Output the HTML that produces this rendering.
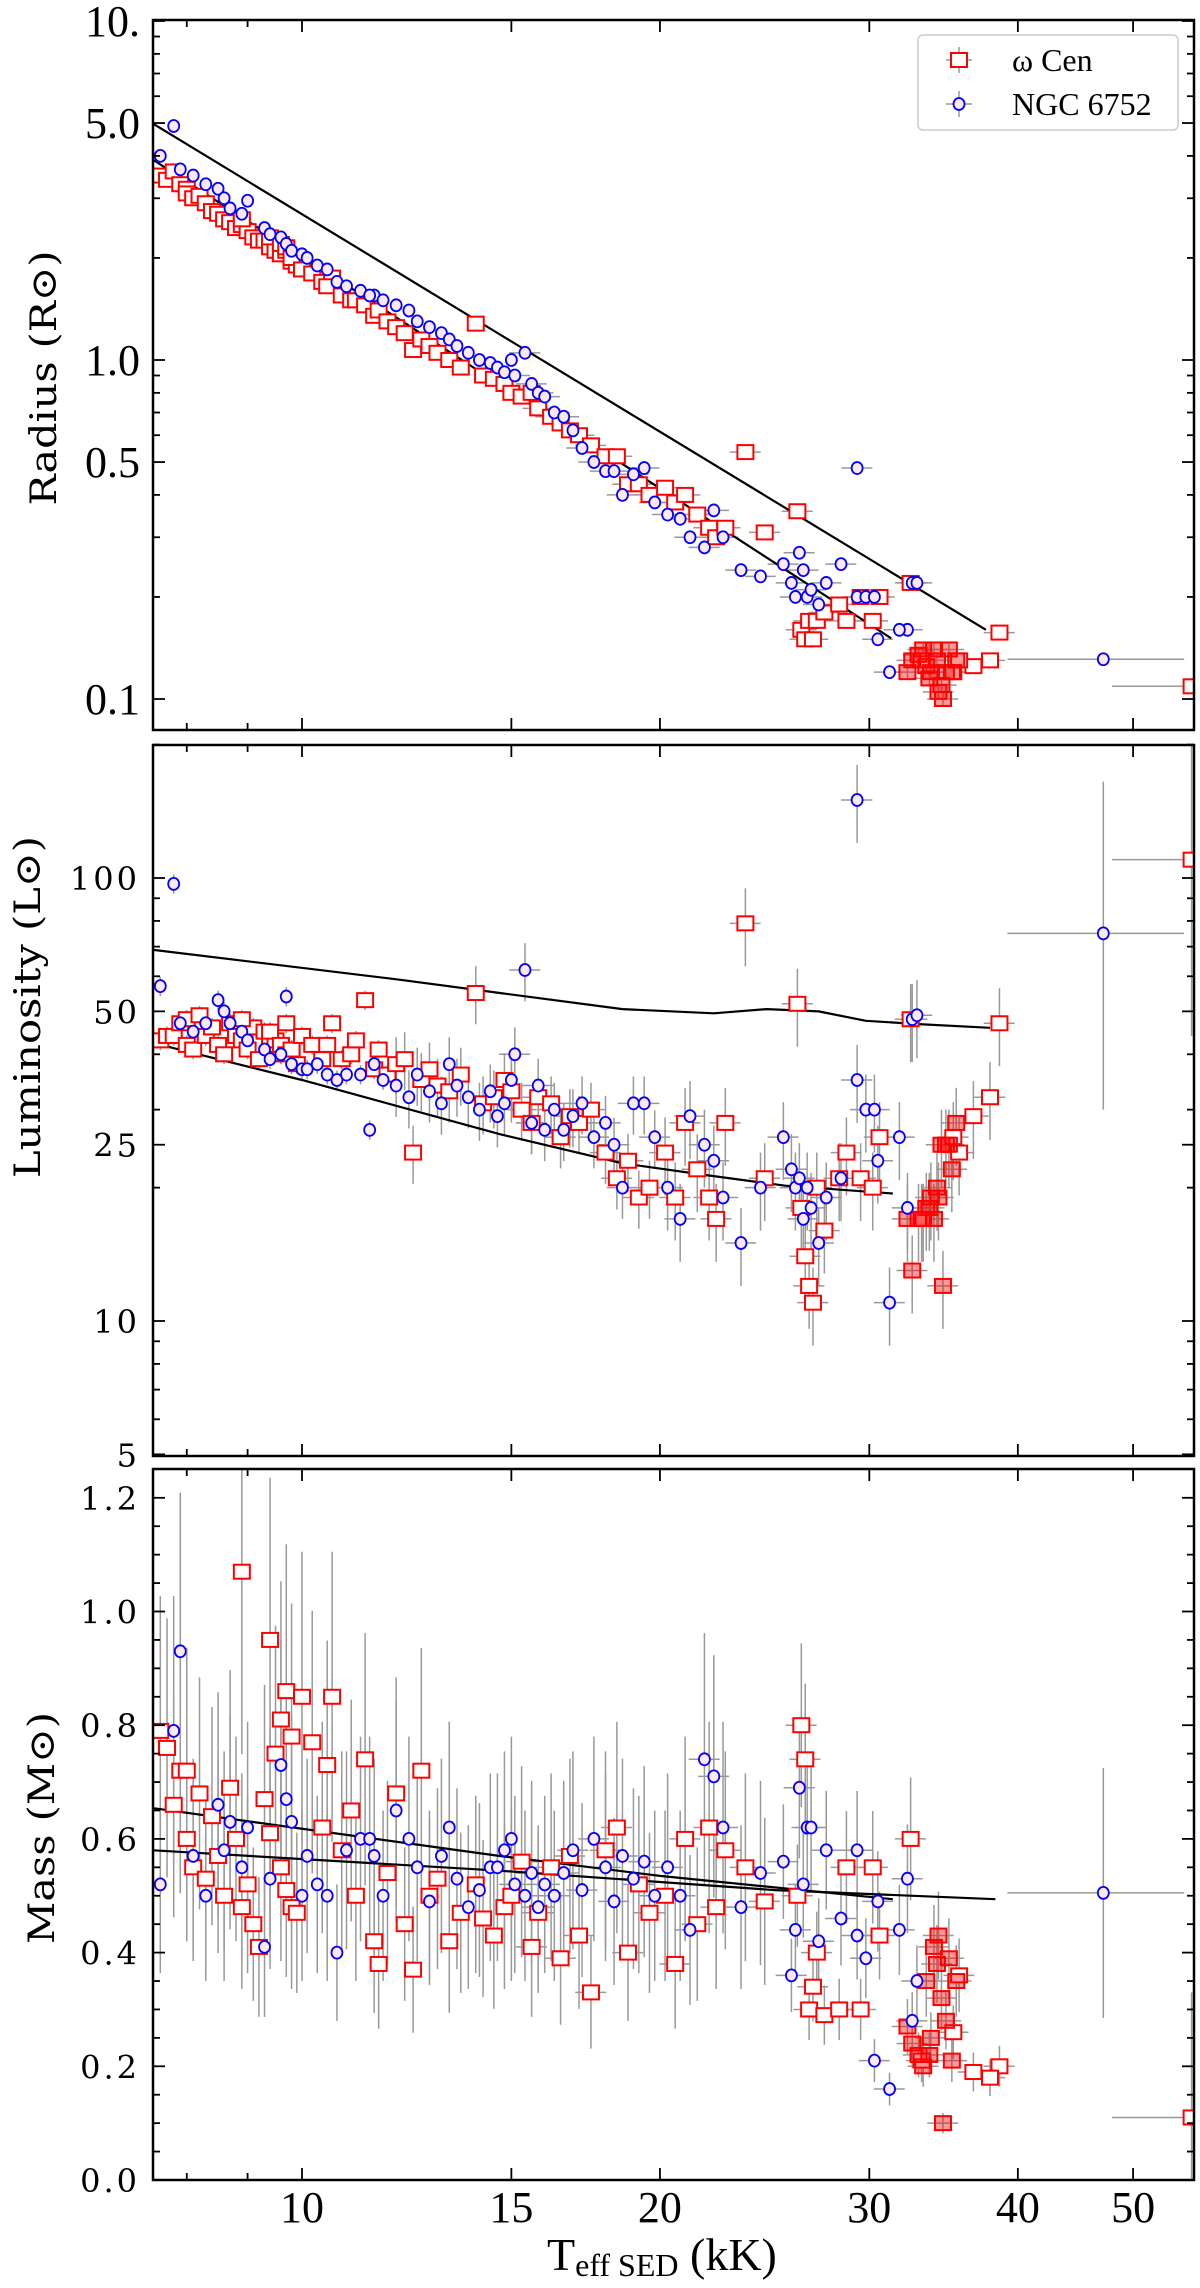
<!DOCTYPE html>
<html><head><meta charset="utf-8"><style>
html,body{margin:0;padding:0;background:#fff;}
svg{display:block;}
</style></head><body>
<svg id="fig" width="1200" height="2288" viewBox="0 0 1200 2288" xmlns="http://www.w3.org/2000/svg">
<g id="layer-err"></g>
<g id="layer-lines"></g>
<g id="layer-marks"></g>
<g id="layer-axes"></g>
<g id="legend">
  <rect x="918" y="35" width="260" height="95" rx="5" fill="#fff" stroke="#ccc" stroke-width="1.5"/>
  <g>
    <line x1="959" y1="47" x2="959" y2="73" stroke="#999" stroke-width="1.5"/>
    <line x1="946" y1="60" x2="972" y2="60" stroke="#999" stroke-width="1.5"/>
    <rect x="951" y="53" width="16" height="14" fill="#fff" stroke="#f00" stroke-width="2"/>
    <text x="1012" y="71" font-family="Liberation Serif, DejaVu Serif, serif" font-size="32">ω Cen</text>
  </g>
  <g>
    <line x1="959" y1="91" x2="959" y2="117" stroke="#999" stroke-width="1.5"/>
    <line x1="946" y1="104" x2="972" y2="104" stroke="#999" stroke-width="1.5"/>
    <ellipse cx="959" cy="104" rx="5.5" ry="6" fill="#fde8ee" stroke="#00f" stroke-width="1.8"/>
    <text x="1012" y="115" font-family="Liberation Serif, DejaVu Serif, serif" font-size="32">NGC 6752</text>
  </g>
</g>
</svg>
<script>
// ---- data: [Teff (kK), Radius, Luminosity, Mass, filled(1/0)] ----
const omegaCen = [
[7.6,3.5,43,0.79,0],[7.7,3.4,44,0.76,0],[7.8,3.6,44,0.66,0],[7.9,3.3,47,0.72,0],[8.0,3.2,48,0.72,0],[8.0,3.1,42,0.6,0],
[8.1,3.0,41,0.55,0],[8.2,3.05,49,0.68,0],[8.3,2.9,44,0.53,0],[8.4,2.75,46,0.64,0],[8.5,2.7,42,0.57,0],[8.6,2.6,40,0.5,0],
[8.7,2.55,47,0.69,0],[8.8,2.45,44,0.6,0],[8.9,2.5,43,0.48,0],[9.0,2.4,41,0.52,0],[9.1,2.3,46,0.45,0],[9.2,2.25,39,0.41,0],
[9.3,2.25,45,0.67,0],[9.4,2.15,42,0.61,0],[9.5,2.1,43,0.75,0],[9.6,2.05,40,0.55,0],[9.7,2.1,47,0.51,0],[9.8,1.95,41,0.48,0],
[9.9,1.9,38,0.47,0],[8.9,2.6,48,1.07,0],[9.4,2.3,45,0.95,0],[9.6,2.2,42,0.81,0],[9.7,2.15,40,0.86,0],[9.8,2.0,41,0.78,0],
[10.0,1.85,44,0.85,0],[10.2,1.8,42,0.77,0],[10.4,1.7,39,0.62,0],[10.6,1.75,47,0.85,0],[10.5,1.65,42,0.73,0],[10.8,1.55,39,0.58,0],
[11.0,1.5,40,0.65,0],[11.1,1.5,43,0.5,0],[11.3,1.45,53,0.74,0],[11.5,1.35,37,0.42,0],[11.6,1.4,41,0.38,0],[11.8,1.3,36,0.54,0],
[12.0,1.25,38,0.68,0],[12.2,1.2,39,0.45,0],[12.4,1.07,24,0.37,0],[12.6,1.15,35,0.72,0],[12.8,1.1,37,0.5,0],[13.0,1.05,34,0.53,0],
[13.3,1.0,33,0.42,0],[13.6,0.95,36,0.47,0],[14.0,1.28,55,0.52,0],[14.2,0.9,31,0.46,0],[14.5,0.88,32,0.43,0],[14.8,0.85,35,0.48,0],
[15.0,0.8,33,0.5,0],[15.3,0.78,30,0.56,0],[15.6,0.8,28,0.41,0],[15.8,0.72,32,0.47,0],[16.2,0.68,31,0.55,0],[16.5,0.65,26,0.39,0],
[16.8,0.62,29,0.57,0],[17.1,0.6,28,0.43,0],[17.5,0.56,30,0.33,0],[18.0,0.52,24,0.58,0],[18.4,0.52,21,0.62,0],[18.8,0.43,23,0.4,0],
[19.2,0.43,19,0.52,0],[19.6,0.4,20,0.47,0],[20.2,0.42,24,0.5,0],[20.6,0.38,19,0.38,0],[21.0,0.4,28,0.6,0],[21.5,0.35,22,0.45,0],
[22.0,0.32,19,0.62,0],[22.3,0.3,17,0.48,0],[22.7,0.32,28,0.58,0],[23.6,0.535,79,0.55,0],[24.5,0.31,21,0.49,0],[26.1,0.358,52,0.5,0],
[26.3,0.16,18,0.8,0],[26.5,0.15,14,0.74,0],[26.7,0.17,12,0.3,0],[26.9,0.15,11,0.34,0],[27.1,0.17,20,0.4,0],[27.5,0.18,16,0.29,0],
[28.3,0.19,21,0.3,0],[28.7,0.17,24,0.55,0],[29.5,0.2,21,0.3,0],[30.2,0.17,20,0.55,0],[30.6,0.2,26,0.43,0],[32.5,0.22,48,0.6,0],
[36.7,0.125,29,0.19,0],[38.6,0.157,47,0.2,0],[37.9,0.13,32,0.18,0],[56,0.109,110,0.11,0],
[33.2,0.13,17,0.21,0],[35.7,0.13,24,0.36,0],[35.3,0.12,26,0.26,0],
[32.3,0.12,17,0.27,1],[32.6,0.13,13,0.24,1],[33.0,0.135,17,0.22,1],[33.3,0.14,17,0.2,1],[33.5,0.125,18,0.35,1],[33.8,0.12,19,0.25,1],
[34.0,0.14,17,0.41,1],[34.2,0.13,20,0.38,1],[34.5,0.11,25,0.32,1],[34.6,0.1,12,0.1,1],[34.8,0.12,25,0.28,1],[35.0,0.14,25,0.39,1],
[35.2,0.12,22,0.21,1],[35.5,0.13,28,0.35,1],[33.7,0.115,18,0.22,1],[34.3,0.105,19,0.43,1]
];
const ngc6752 = [
[7.6,4.0,57,0.52],[7.8,4.9,97,0.79],[7.9,3.65,47,0.93],[8.1,3.5,45,0.57],[8.3,3.3,47,0.5],[8.5,3.2,53,0.66],
[8.6,3.0,50,0.58],[8.7,2.8,47,0.63],[8.9,2.7,45,0.55],[9.0,2.95,43,0.62],[9.3,2.45,41,0.41],[9.4,2.35,39,0.53],
[9.6,2.3,40,0.73],[9.7,2.2,54,0.67],[9.8,2.1,38,0.63],[10.0,2.05,37,0.5],[10.1,2.0,37,0.57],[10.3,1.9,38,0.52],
[10.5,1.85,36,0.5],[10.7,1.7,35,0.4],[10.9,1.65,36,0.58],[11.2,1.6,36,0.6],[11.5,1.55,38,0.57],[11.7,1.5,35,0.5],
[12.0,1.45,34,0.65],[11.4,1.55,27,0.6],[12.3,1.4,32,0.6],[12.5,1.3,36,0.55],[12.8,1.25,33,0.49],[13.1,1.2,31,0.57],
[13.3,1.15,38,0.62],[13.5,1.1,34,0.53],[13.8,1.05,32,0.48],[14.1,1.0,30,0.51],[14.4,0.98,33,0.55],[14.6,0.95,29,0.55],
[14.8,0.92,31,0.58],[15.0,1.0,35,0.6],[15.1,0.9,40,0.52],[15.4,1.05,62,0.5],[15.6,0.85,28,0.54],[15.8,0.8,34,0.48],
[16.0,0.78,27,0.52],[16.3,0.7,30,0.5],[16.6,0.68,27,0.54],[16.9,0.62,29,0.58],[17.2,0.55,31,0.51],[17.6,0.5,26,0.6],
[18.0,0.47,28,0.55],[18.3,0.47,25,0.49],[18.6,0.4,20,0.57],[19.0,0.46,31,0.53],[19.4,0.48,31,0.56],[19.8,0.38,26,0.5],
[20.3,0.35,20,0.55],[20.8,0.34,17,0.5],[21.2,0.3,29,0.44],[21.8,0.28,25,0.74],[22.2,0.36,23,0.71],[22.6,0.3,19,0.62],
[23.4,0.24,15,0.48],[24.3,0.23,20,0.54],[25.4,0.25,26,0.56],[25.8,0.22,22,0.36],[26.0,0.2,20,0.44],[26.2,0.27,21,0.69],
[26.4,0.24,17,0.52],[26.6,0.2,20,0.62],[26.8,0.21,18,0.62],[27.2,0.19,15,0.42],[27.6,0.22,19,0.58],[28.4,0.25,21,0.46],
[29.3,0.2,35,0.43],[29.3,0.48,150,0.58],[29.8,0.2,30,0.39],[30.3,0.2,30,0.21],[31.2,0.12,11,0.16],[32.3,0.16,18,0.53],
[32.6,0.22,48,0.28],[32.9,0.22,49,0.35],[47.2,0.131,75,0.505],[31.8,0.16,26,0.44],[30.5,0.15,23,0.49]
];
// model tracks
const radLineUpT = [7.5, 37.6], radLineUpR = [4.97, 0.16];
const radLineLoT = [7.5, 31.3], radLineLoR = [3.89, 0.151];
const lumLineUpT = [7.5,12.1,14.67,18.6,22.2,24.6,27.2,29.8,33,37.9];
const lumLineUpL = [68.8,58.9,55,50.6,49.5,50.6,50,47.6,46.8,45.9];
const lumLineLoT = [7.5,10,14.67,18.6,22,25.5,31.4];
const lumLineLoL = [42.4,35,26.4,22.7,21.3,20.2,19.4];
const massLineAT = [7.5,14.67,20,31.4];
const massLineAM = [0.654,0.57,0.535,0.494];
const massLineBT = [7.5,14.67,25,38.3];
const massLineBM = [0.58,0.544,0.51,0.494];
// ticks
const xMajor = [10,15,20,30,40,50];
const xMinor = [8,9];
const radTicks = [0.1,0.5,1.0,5.0,10];
const radTickLabels = ["0.1","0.5","1.0","5.0","10."];
const lumTicks = [5,10,25,50,100];
const lumTickLabels = ["5","10","25","50","100"];
const massTicks = [0,0.2,0.4,0.6,0.8,1.0,1.2];
const massTickLabels = ["0.0","0.2","0.4","0.6","0.8","1.0","1.2"];

// ---- geometry ----
const X0=153, X1=1194;
const P = {
  rad:{top:20,bot:730},
  lum:{top:745,bot:1456},
  mass:{top:1469,bot:2180}
};
const L10=Math.log10;
const xs = T => 302 + (L10(T)-1)*1189;
const yR = R => 360 - L10(R)*339;
const yL = L => 1321 - (L10(L)-1)*443;
const yM = M => 2180 - M*568.5;
const NS="http://www.w3.org/2000/svg";
function mk(tag, attrs, parent){const e=document.createElementNS(NS,tag);for(const k in attrs)e.setAttribute(k,attrs[k]);parent.appendChild(e);return e;}
const gErr=document.getElementById('layer-err'), gLines=document.getElementById('layer-lines'), gMarks=document.getElementById('layer-marks'), gAx=document.getElementById('layer-axes');

const defs=mk('defs',{},document.getElementById('fig'));
for(const k in P){const c=mk('clipPath',{id:'clip-'+k},defs);mk('rect',{x:X0,y:P[k].top,width:X1-X0,height:P[k].bot-P[k].top},c);}
const panelErr={},panelLines={},panelMarks={};
for(const k in P){
  panelErr[k]=mk('g',{'clip-path':'url(#clip-'+k+')'},gErr);
  panelLines[k]=mk('g',{'clip-path':'url(#clip-'+k+')'},gLines);
  panelMarks[k]=mk('g',{'clip-path':'url(#clip-'+k+')'},gMarks);
}
function xerrOf(T){return T>40?8:(T>15?0.03*T:0.01*T);}
function errbar(g,x1,y1,x2,y2){const l=mk('line',{x1:x1,y1:y1,x2:x2,y2:y2,stroke:'#999','stroke-width':1.5},g);
  
  }
function drawPoint(panel, T, v, yf, relLo, relHi, kind, filled){
  const x=xs(T), y=yf(v), dx=xerrOf(T);
  errbar(panelErr[panel], xs(T-dx), y, xs(T+dx), y);
  errbar(panelErr[panel], x, yf(relLo), x, yf(relHi));
  let m;
  if(kind==='sq'){
    m=mk('rect',{x:x-8,y:y-7,width:16,height:14,fill:filled?'rgba(255,0,0,0.4)':'#fff',stroke:'#f00','stroke-width':2},panelMarks[panel]);
    
  } else {
    m=mk('ellipse',{cx:x,cy:y,rx:5.5,ry:6,fill:'#fde8ee',stroke:'#00f','stroke-width':1.8},panelMarks[panel]);
    
  }
  
}
function lumErr(T){return T>40?0.6:(T<12?0.05:(T<20?0.15:0.2));}
function massErr(T,M){return T>40?0.22:(T<25?0.3*M:0.18*M);}
function series(arr, kind){
  arr.forEach(s=>{
    const [T,R,Lu,M,f]=s;
    drawPoint('rad',T,R,yR,R*0.96,R*1.04,kind,f);
    const le=lumErr(T);
    drawPoint('lum',T,Lu,yL,Lu*(1-le),Lu*(1+le*(T>40?2:1)),kind,f);
    const me=massErr(T,M);
    drawPoint('mass',T,M,yM,M-me,M+me,kind,f);
  });
}
series(omegaCen,'sq');
series(ngc6752,'ci');

function poly(panel, Ts, Vs, yf, name){
  const pts=Ts.map((t,i)=>xs(t).toFixed(1)+','+yf(Vs[i]).toFixed(1)).join(' ');
  const p=mk('polyline',{points:pts,fill:'none',stroke:'#000','stroke-width':2.2},panelLines[panel]);
  
  
}
poly('rad',radLineUpT,radLineUpR,yR,'radius-model-upper');
poly('rad',radLineLoT,radLineLoR,yR,'radius-model-lower');
poly('lum',lumLineUpT,lumLineUpL,yL,'luminosity-model-upper');
poly('lum',lumLineLoT,lumLineLoL,yL,'luminosity-model-lower');
poly('mass',massLineAT,massLineAM,yM,'mass-model-a');
poly('mass',massLineBT,massLineBM,yM,'mass-model-b');

function tick(x1,y1,x2,y2){mk('line',{x1:x1,y1:y1,x2:x2,y2:y2,stroke:'#000','stroke-width':1.8},gAx);}
function txt(s,x,y,attrs){const t=mk('text',Object.assign({x:x,y:y},attrs),gAx);t.textContent=s;return t;}
for(const k in P){
  const {top,bot}=P[k];
  const fr=mk('rect',{x:X0,y:top,width:X1-X0,height:bot-top,fill:'none',stroke:'#000','stroke-width':2.5},gAx);
  
  
  xMajor.forEach(T=>{tick(xs(T),bot,xs(T),bot-12);tick(xs(T),top,xs(T),top+12);});
  xMinor.forEach(T=>{tick(xs(T),bot,xs(T),bot-7);tick(xs(T),top,xs(T),top+7);});
}
function yTicks(vals, yf, len){vals.forEach(v=>{const y=yf(v);tick(X0,y,X0+len,y);tick(X1,y,X1-len,y);});}
yTicks(radTicks,yR,12);
yTicks([0.2,0.3,0.4,0.6,0.7,0.8,0.9,2,3,4,6,7,8,9],yR,7);
radTicks.forEach((v,i)=>{const t=txt(radTickLabels[i],140,yR(v)+15,{'text-anchor':'end','font-family':'Liberation Serif, serif','font-size':44});
  
  });
yTicks(lumTicks,yL,12);
yTicks([6,7,8,9,20,30,40,60,70,80,90,200],yL,7);
lumTickLabels.forEach((s,i)=>{const t=txt(s,140,yL(lumTicks[i])+12,{'text-anchor':'end','font-family':'DejaVu Serif, serif','font-size':32,'letter-spacing':3});
  
  });
yTicks(massTicks,yM,12);
for(let m=0.05;m<1.25;m+=0.05){if(Math.abs(m*5-Math.round(m*5))>0.01)tick(X0,yM(m),X0+7,yM(m)),tick(X1,yM(m),X1-7,yM(m));}
massTickLabels.forEach((s,i)=>{const t=txt(s,140,yM(massTicks[i])+12,{'text-anchor':'end','font-family':'DejaVu Serif, serif','font-size':32,'letter-spacing':3});
  
  });
xMajor.forEach(T=>{const t=txt(String(T),xs(T),2222,{'text-anchor':'middle','font-family':'Liberation Serif, serif','font-size':44});
  
  });
const xt=mk('text',{x:547,y:2270,'font-family':'Liberation Serif, serif','font-size':46},gAx);


xt.innerHTML='T<tspan font-size="32" dy="6">eff SED</tspan><tspan dy="-6"> (kK)</tspan>';
function ytitle(s,cx,cy,len,name){
  const t=mk('text',{x:0,y:0,transform:`translate(${cx},${cy}) rotate(-90)`,'text-anchor':'middle','font-family':'DejaVu Serif, serif','font-size':36,textLength:len,lengthAdjust:'spacingAndGlyphs'},gAx);
  t.textContent=s;
  
  
}
ytitle('Radius (R\u2299)',56,378,255,'radius-axis-title');
ytitle('Luminosity (L\u2299)',40,1007,342,'luminosity-axis-title');
ytitle('Mass (M\u2299)',54,1828,232,'mass-axis-title');
</script>
</body></html>
